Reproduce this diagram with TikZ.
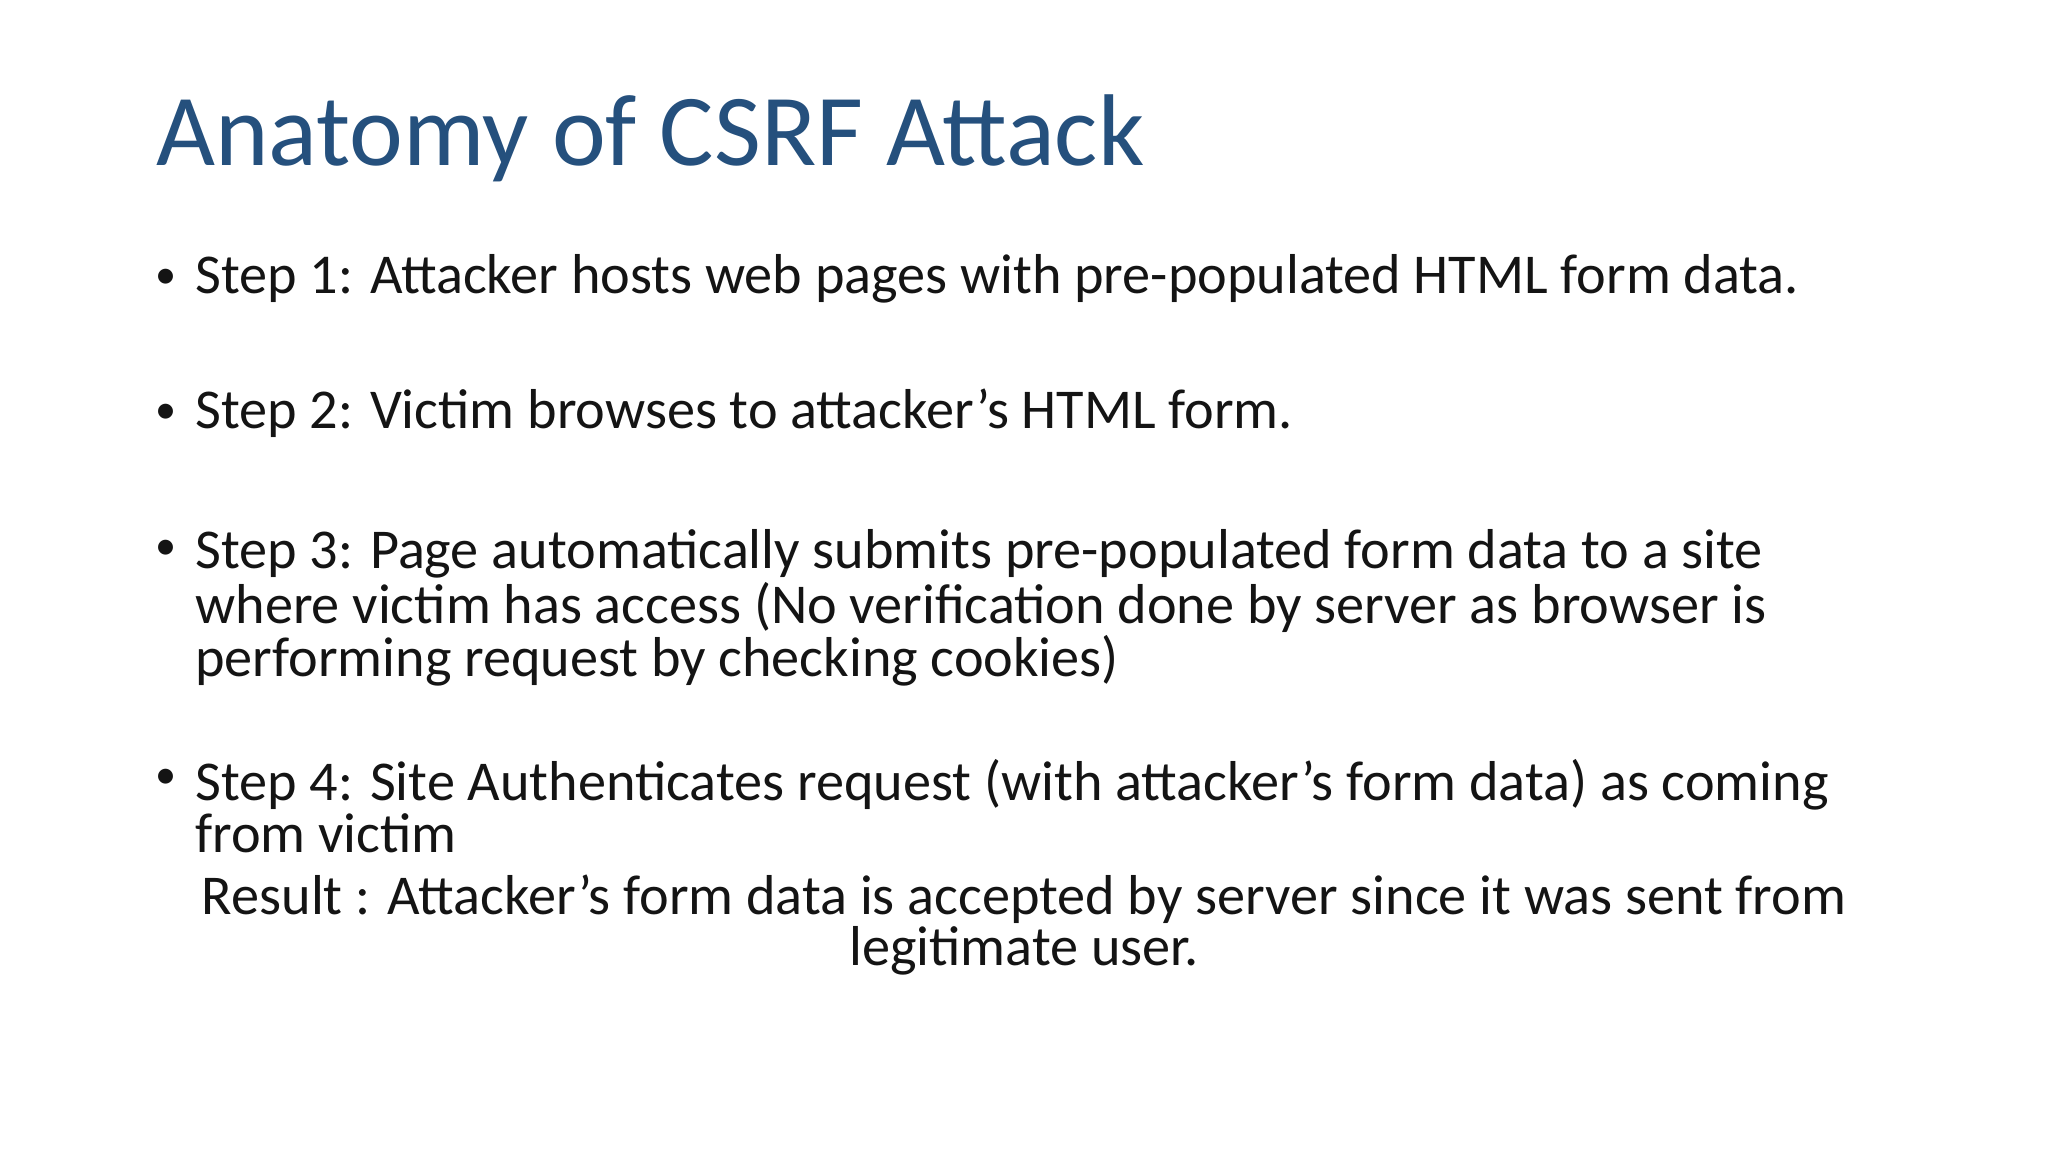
\documentclass[tikz,border=0pt]{standalone}
\usepackage{fontspec}
\setmainfont{Carlito}
\definecolor{titleblue}{RGB}{37,80,125}
\definecolor{bodytext}{RGB}{20,20,20}
\begin{document}
\begin{tikzpicture}[x=0.013061cm,y=-0.013061cm,
  body/.style={anchor=base west,inner sep=0pt,text=bodytext,font=\fontsize{16}{13}\selectfont},
  bul/.style={anchor=base,inner sep=0pt,text=bodytext,font=\fontsize{12}{13}\selectfont}]
\useasboundingbox[fill=white] (0,0) rectangle (1568,882);
\node[anchor=base west,inner sep=0pt,text=titleblue,font=\fontsize{29}{30}\selectfont] (title) at (119,127) {Anatomy of CSRF Attack};
\node[bul] (b1) at (127,221) {•};
\node[body] (s1) at (149,225) {Step 1: Attacker hosts web pages with pre-populated HTML form data.};
\node[bul] (b2) at (127,324) {•};
\node[body] (s2) at (149,328) {Step 2: Victim browses to attacker’s HTML form.};
\node[bul] (b3) at (127,428) {•};
\node[body,align=left,anchor=north west] (s3) at (149,405) {Step 3: Page automatically submits pre-populated form data to a site\\where victim has access (No verification done by server as browser is\\performing request by checking cookies)};
\node[bul] (b4) at (127,604) {•};
\node[body,align=left,anchor=north west] (s4) at (149,581) {Step 4: Site Authenticates request (with attacker’s form data) as coming\\from victim};
\node[body,align=center,anchor=north] (res) at (784,669) {Result : Attacker’s form data is accepted by server since it was sent from\\legitimate user.};
\end{tikzpicture}
\end{document}
